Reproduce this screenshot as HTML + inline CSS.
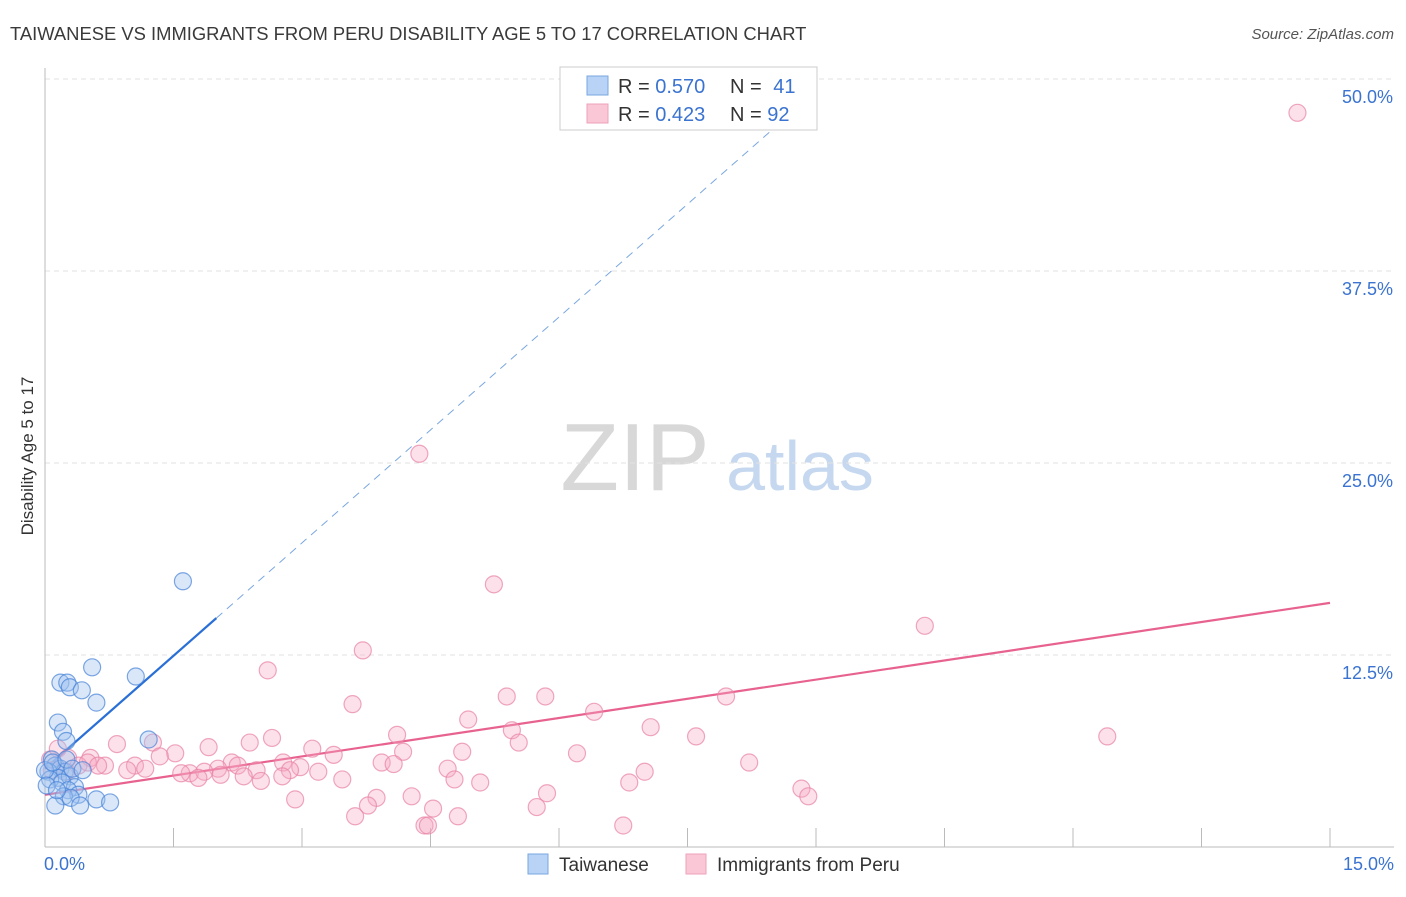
<!DOCTYPE html>
<html><head><meta charset="utf-8"><style>
body{margin:0;background:#fff;font-family:"Liberation Sans",sans-serif;}
svg text{font-family:"Liberation Sans",sans-serif;}
</style></head><body>
<svg id="chart" width="1406" height="892" viewBox="0 0 1406 892">
<text x="10" y="40" font-size="18.4" fill="#3a3a3a">TAIWANESE VS IMMIGRANTS FROM PERU DISABILITY AGE 5 TO 17 CORRELATION CHART</text>
<text x="1394" y="39" font-size="15" fill="#555" font-style="italic" text-anchor="end">Source: ZipAtlas.com</text>
<text x="33" y="456" font-size="17" fill="#333" transform="rotate(-90 33 456)" text-anchor="middle">Disability Age 5 to 17</text>
<g><text x="635" y="490" font-size="96" fill="#d8d8d8" font-family="Liberation Serif,serif" text-anchor="middle">ZIP</text><text x="800" y="490" font-size="70" fill="#c5d8ef" text-anchor="middle">atlas</text></g>
<g id="grid"></g><g id="axes"></g><g id="lines"></g><g id="pts"></g>
<g>
<rect x="560" y="67" width="257" height="63" fill="#fff" stroke="#ccc"/>
<rect x="587" y="76" width="21" height="19" fill="#b8d3f5" stroke="#7aa7e0"/>
<rect x="587" y="104" width="21" height="19" fill="#f9c7d6" stroke="#eea0b9"/>
<text x="618" y="93" font-size="20" fill="#333">R = <tspan fill="#3a73d0">0.570</tspan></text>
<text x="730" y="93" font-size="20" fill="#333">N = <tspan fill="#3a73d0" dx="6">41</tspan></text>
<text x="618" y="121" font-size="20" fill="#333">R = <tspan fill="#3a73d0">0.423</tspan></text>
<text x="730" y="121" font-size="20" fill="#333">N = <tspan fill="#3a73d0">92</tspan></text>
</g>
<g>
<rect x="528" y="854" width="20" height="20" fill="#b8d3f5" stroke="#7aa7e0"/>
<text x="559" y="871" font-size="19" fill="#333">Taiwanese</text>
<rect x="686" y="854" width="20" height="20" fill="#f9c7d6" stroke="#eea0b9"/>
<text x="717" y="871" font-size="19" fill="#333">Immigrants from Peru</text>
</g>
</svg>
<script>
const xTicks=[0,1.5,3,4.5,6,7.5,9,10.5,12,13.5,15];
const yTicks=[12.5,25,37.5,50];
const yTickLabels=["12.5%","25.0%","37.5%","50.0%"];
const xEndLabels=["0.0%","15.0%"];
const taiwaneseX=[1.61,0.55,1.06,0.18,0.26,0.29,0.43,0.60,0.15,0.21,0.25,1.21,0.08,0.12,0.18,0.04,0.23,0.15,0.29,0.06,0.20,0.35,0.27,0.39,0.22,0.30,0.60,0.76,0.41,0.12,0,0.09,0.25,0.32,0.02,0.14,0.44];
const taiwaneseY=[17.3,11.7,11.1,10.7,10.7,10.4,10.2,9.4,8.1,7.5,6.9,7.0,5.7,5.3,5.1,4.9,4.9,4.5,4.6,4.4,4.2,3.9,3.7,3.4,3.3,3.2,3.1,2.9,2.7,2.7,5.0,5.5,5.7,5.1,4.0,3.7,5.0];
const peruX=[14.62,4.37,5.24,10.27,3.71,2.60,3.59,5.39,5.84,7.95,6.41,4.94,7.07,5.45,4.11,7.60,12.40,5.53,2.65,2.39,1.26,0.84,1.91,3.12,4.18,4.87,3.37,6.21,1.52,0.53,1.34,2.78,3.93,4.07,8.22,2.18,2.25,2.98,1.05,0.70,2.02,4.70,3.19,2.47,1.69,1.86,7.00,0.96,1.17,2.86,1.59,3.47,4.78,5.08,6.82,2.05,2.32,2.77,2.52,1.79,8.83,8.91,5.86,3.87,4.28,2.92,3.77,4.53,5.74,3.62,4.82,4.43,4.47,6.75,0.06,0.15,0.27,0.39,0.50,0.62,0.08,0.25];
const peruY=[47.8,25.6,17.1,14.4,12.8,11.5,9.3,9.8,9.8,9.8,8.8,8.3,7.8,7.6,7.3,7.2,7.2,6.8,7.1,6.8,6.8,6.7,6.5,6.4,6.2,6.2,6.0,6.1,6.1,5.8,5.9,5.5,5.5,5.4,5.5,5.5,5.3,5.2,5.3,5.3,5.1,5.1,4.9,5.0,4.8,4.9,4.9,5.0,5.1,5.0,4.8,4.4,4.4,4.2,4.2,4.7,4.6,4.6,4.3,4.5,3.8,3.3,3.5,3.2,3.3,3.1,2.7,2.5,2.6,2.0,2.0,1.4,1.4,1.4,5.7,6.4,5.8,5.3,5.5,5.3,5.0,4.9];
const blueTrend=[5.1,4.9]; // intercept, slope
const pinkTrend=[3.4,0.833];
const NS="http://www.w3.org/2000/svg";
const X=v=>45+v/15*1285, Y=v=>847-v/12.5*192;
function mk(t,a,p){const e=document.createElementNS(NS,t);for(const k in a)e.setAttribute(k,a[k]);p.appendChild(e);return e;}
const grid=document.getElementById('grid'),axes=document.getElementById('axes'),lines=document.getElementById('lines'),pts=document.getElementById('pts');
yTicks.forEach((v,i)=>{
 const l=mk('line',{x1:45,x2:1394,y1:Y(v),y2:Y(v),stroke:'#e2e2e2','stroke-dasharray':'5,4'},grid);
 
 
 const t=mk('text',{x:1393,y:Y(v)+24,'font-size':18,fill:'#3a73d0','text-anchor':'end'},axes);
 t.textContent=yTickLabels[i];
 
 
});
const ax=mk('line',{x1:45,x2:45,y1:68,y2:847,stroke:'#bbb'},axes);


const bx=mk('line',{x1:45,x2:1394,y1:847,y2:847,stroke:'#bbb'},axes);


xTicks.forEach(v=>{
 const t=mk('line',{x1:X(v),x2:X(v),y1:828,y2:847,stroke:'#bbb'},axes);
 
 
});
[[xTicks[0],'start',44],[xTicks[xTicks.length-1],'end',1394]].forEach((d,i)=>{
 const t=mk('text',{x:d[2],y:870,'font-size':18,fill:'#3a73d0','text-anchor':d[1]},axes);
 t.textContent=xEndLabels[i];
 
 
});
peruX.forEach((x,i)=>{
 const c=mk('circle',{cx:X(x),cy:Y(peruY[i]),r:8.5,fill:'rgba(246,170,196,0.35)',stroke:'rgba(232,130,165,0.7)','stroke-width':1.2},pts);
 
 
});
taiwaneseX.forEach((x,i)=>{
 const c=mk('circle',{cx:X(x),cy:Y(taiwaneseY[i]),r:8.5,fill:'rgba(160,195,240,0.4)',stroke:'rgba(70,130,215,0.7)','stroke-width':1.2},pts);
 
 
});
const bEnd=2.0, bTop=(47.5-blueTrend[0])/blueTrend[1];
const b1=mk('line',{x1:X(0),y1:Y(blueTrend[0]),x2:X(bEnd),y2:Y(blueTrend[0]+blueTrend[1]*bEnd),stroke:'#2a6fd6','stroke-width':2.2},lines);


const b2=mk('line',{x1:X(bEnd),y1:Y(blueTrend[0]+blueTrend[1]*bEnd),x2:X(bTop),y2:Y(47.5),stroke:'#7aa7e0','stroke-width':1,'stroke-dasharray':'8,6'},lines);


const p1=mk('line',{x1:X(0),y1:Y(pinkTrend[0]),x2:X(15),y2:Y(pinkTrend[0]+pinkTrend[1]*15),stroke:'#e8628f','stroke-width':2.2},lines);


</script>
</body></html>
